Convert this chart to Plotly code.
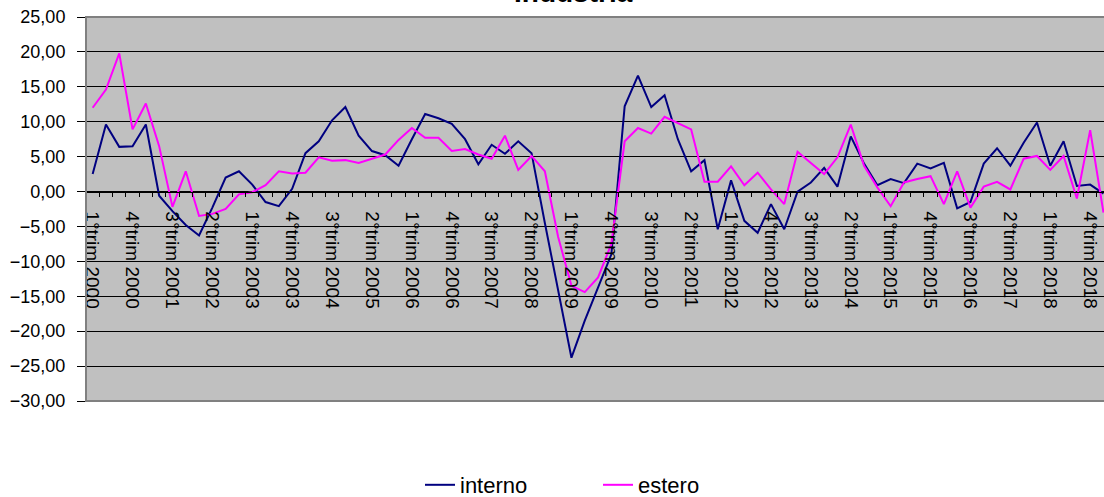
import plotly.graph_objects as go

# quarterly periods 1°trim 2000 .. 1°trim 2019
periods = [f"{q}°trim {y}" for y in range(2000, 2020) for q in (1, 2, 3, 4)][:77]

interno = [
    2.5, 9.6, 6.4, 6.5, 9.6, -0.6, -2.8, -4.8, -6.3, -2.3,
    2.0, 2.9, 1.0, -1.5, -2.1, 0.4, 5.5, 7.2, 10.2, 12.1,
    8.0, 5.8, 5.2, 3.7, 7.5, 11.1, 10.5, 9.7, 7.5, 3.9,
    6.7, 5.4, 7.2, 5.5, -4.5, -14.0, -23.8, -18.5, -13.8, -9.0,
    12.2, 16.6, 12.1, 13.8, 7.5, 2.9, 4.5, -5.4, 1.6, -4.2,
    -5.9, -1.8, -5.4, 0.0, 1.3, 3.4, 0.7, 7.9, 4.0, 0.9,
    1.8, 1.2, 4.0, 3.3, 4.1, -2.4, -1.5, 4.0, 6.2, 3.7,
    7.0, 9.9, 3.7, 7.2, 0.8, 1.0, -0.3,
]
estero = [
    12.0, 14.6, 19.8, 8.9, 12.6, 6.5, -2.2, 2.9, -3.5, -3.2,
    -2.5, -0.4, -0.1, 0.9, 2.9, 2.6, 2.7, 4.9, 4.4, 4.5,
    4.1, 4.7, 5.3, 7.4, 9.1, 7.7, 7.7, 5.8, 6.1, 5.3,
    4.7, 8.0, 3.1, 5.1, 2.9, -6.5, -13.5, -14.4, -12.3, -7.5,
    7.2, 9.1, 8.3, 10.7, 9.8, 8.9, 1.4, 1.4, 3.6, 0.9,
    2.7, 0.3, -1.8, 5.7, 4.1, 2.5, 4.9, 9.6, 3.7, 0.6,
    -2.1, 1.3, 1.8, 2.2, -1.8, 2.9, -2.3, 0.7, 1.4, 0.3,
    4.7, 5.1, 3.1, 5.1, -1.0, 8.8, -3.0,
]
tick_labels = periods[::3]

FONT = "Liberation Sans, Arial, sans-serif"
X_END = 76.04

fig = go.Figure()
fig.add_trace(go.Scatter(x=periods, y=interno, name="interno", mode="lines",
                         line={"color": "#000080", "width": 2}))
fig.add_trace(go.Scatter(x=periods, y=estero, name="estero", mode="lines",
                         line={"color": "#FF00FF", "width": 2}))
# helper trace so the tick-mark axis is drawn
fig.add_trace(go.Scatter(x=[0], y=[None], xaxis="x2", showlegend=False, hoverinfo="skip"))

zero_pos = 30 / 55

fig.update_layout(
    width=1104,
    height=497,
    paper_bgcolor="white",
    plot_bgcolor="#C0C0C0",
    margin={"l": 86, "r": 0, "t": 17, "b": 96},
    separators=",.",
    font={"family": FONT, "color": "black"},
    showlegend=True,
    legend={
        "orientation": "h",
        "xref": "container",
        "yref": "container",
        "x": 598 / 1104,
        "xanchor": "center",
        "y": 1 - 485 / 497,
        "yanchor": "middle",
        "font": {"size": 22, "color": "black"},
        "bgcolor": "rgba(0,0,0,0)",
        "entrywidth": 133,
    },
    xaxis={
        "type": "category",
        "range": [-0.5, X_END],
        "anchor": "free",
        "position": zero_pos,
        "automargin": False,
        "showgrid": False,
        "showline": True,
        "linecolor": "black",
        "linewidth": 1,
        "tickmode": "array",
        "tickvals": tick_labels,
        "ticktext": tick_labels,
        "tickangle": 90,
        "ticks": "",
        "ticklabelstandoff": 15,
        "tickfont": {"size": 19, "color": "black"},
        "zeroline": False,
    },
    xaxis2={
        "overlaying": "x",
        "range": [-0.5, X_END],
        "anchor": "free",
        "position": zero_pos,
        "automargin": False,
        "showgrid": False,
        "showline": False,
        "tickmode": "array",
        "tickvals": [k - 0.5 for k in range(len(periods) + 1)],
        "ticks": "outside",
        "ticklen": 4,
        "tickcolor": "black",
        "tickwidth": 1,
        "showticklabels": False,
        "zeroline": False,
    },
    yaxis={
        "range": [-30, 25],
        "automargin": False,
        "tickmode": "linear",
        "tick0": -30,
        "dtick": 5,
        "tickformat": ".2f",
        "showgrid": True,
        "gridcolor": "black",
        "gridwidth": 1,
        "ticks": "outside",
        "ticklen": 8,
        "tickcolor": "black",
        "ticklabelstandoff": 8,
        "tickfont": {"size": 18, "color": "black"},
        "zeroline": False,
        "showline": False,
    },
)

# plot-area border (grey)
fig.add_shape(type="rect", xref="paper", yref="paper", x0=0, x1=1.02, y0=0, y1=1,
              line={"color": "#808080", "width": 2})

fig.add_annotation(text="<b>Industria</b>", xref="paper", yref="paper",
                   x=(573 - 86) / 1018, y=1.018, xanchor="center", yanchor="bottom",
                   showarrow=False, font={"size": 28, "color": "black", "family": FONT})

# drop the default 8px page margin so the figure sits at the window's corner
fig.write_html("out.html", config={"displayModeBar": False},
               post_script="document.body.style.margin = '0';")
